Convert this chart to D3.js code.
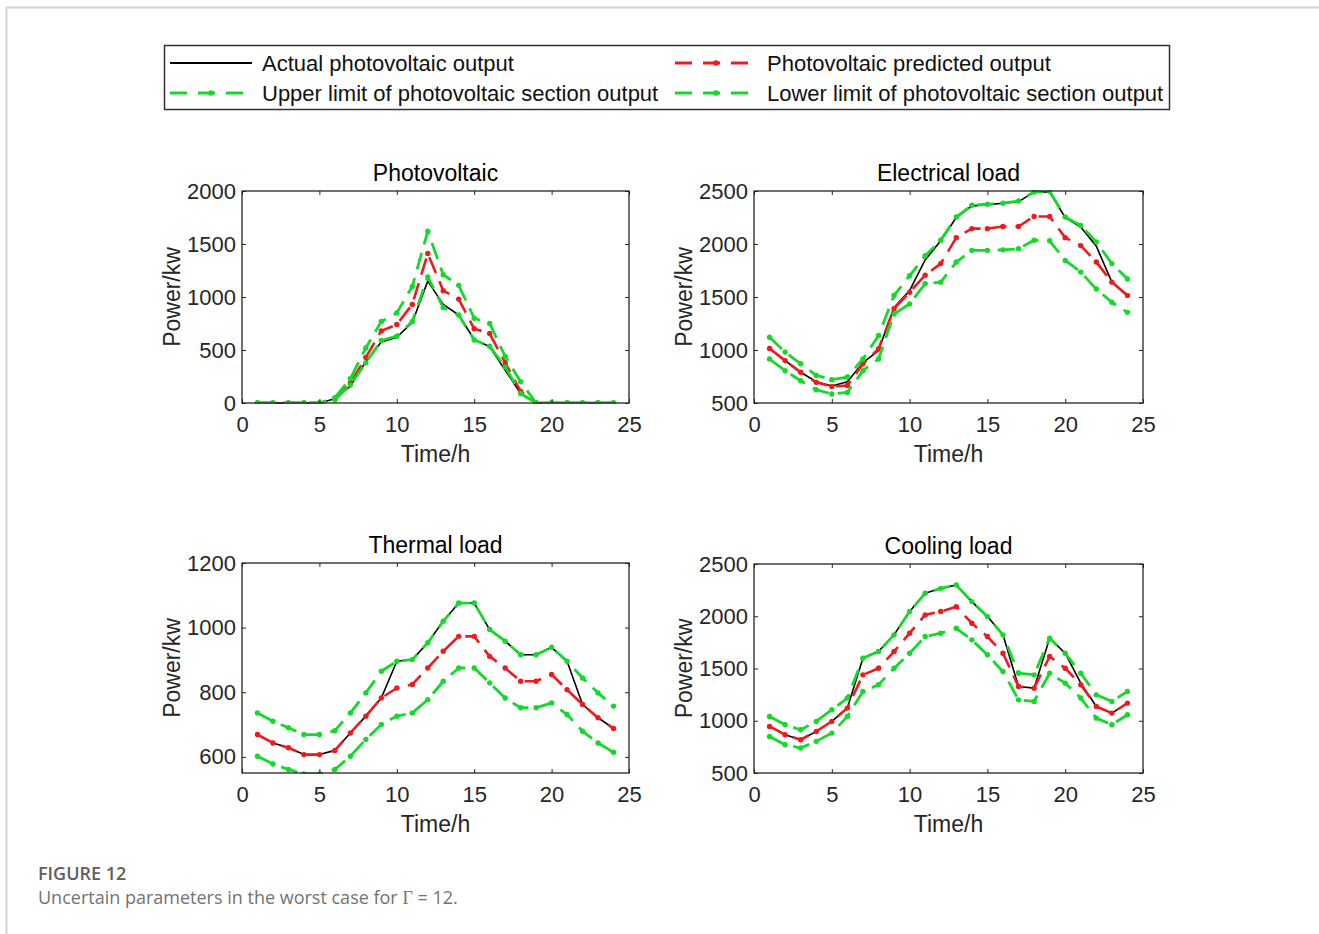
<!DOCTYPE html>
<html>
<head>
<meta charset="utf-8">
<script src="https://cdn.jsdelivr.net/npm/d3@7"></script>
<style>
  html, body { margin: 0; padding: 0; background: #fff; }
  svg { display: block; }
</style>
</head>
<body>
<svg id="fig" width="1319" height="934"></svg>
<script>
// Hours of the day
const hours = [1,2,3,4,5,6,7,8,9,10,11,12,13,14,15,16,17,18,19,20,21,22,23,24];

// Photovoltaic output (kW)
const pvActual    = [0,0,0,0,0,40,160,390,575,620,760,1150,930,830,600,530,310,90,0,0,0,0,0,0];
const pvPredicted = [0,0,0,0,0,40,190,430,680,740,930,1410,1060,980,700,655,380,110,0,0,0,0,0,0];
const pvUpper     = [0,0,0,0,0,50,230,520,770,850,1100,1620,1210,1110,800,750,440,200,0,0,0,0,0,0];
const pvLower     = [0,0,0,0,0,30,170,380,590,630,770,1190,900,830,595,535,340,90,0,0,0,0,0,0];

// Electrical load (kW)
const elActual    = [1010,900,790,700,660,700,880,995,1400,1560,1850,2030,2250,2360,2370,2385,2400,2490,2490,2250,2160,1980,1640,1510];
const elPredicted = [1015,900,790,695,655,665,870,1010,1390,1545,1705,1815,2060,2145,2145,2165,2165,2260,2260,2060,1985,1830,1640,1515];
const elUpper     = [1120,980,870,760,720,745,915,1135,1515,1700,1890,2035,2255,2365,2375,2385,2405,2490,2495,2255,2175,2020,1815,1670];
const elLower     = [915,805,710,625,585,600,805,915,1340,1435,1625,1640,1830,1940,1940,1945,1955,2035,2030,1845,1735,1575,1450,1355];

// Thermal load (kW)
const thActual    = [669,643,628,607,607,620,674,726,782,896,901,953,1020,1076,1076,994,958,916,916,939,896,762,721,688];
const thPredicted = [669,643,628,607,607,620,674,726,782,813,824,875,927,973,973,911,875,834,834,855,808,762,721,688];
const thUpper     = [736,710,690,669,669,681,736,798,865,896,901,953,1020,1076,1076,994,958,916,916,939,896,844,798,757];
const thLower     = [602,578,561,547,547,561,602,654,700,726,736,777,834,875,875,829,782,752,752,767,731,679,643,614];

// Cooling load (kW)
const coActual    = [946,866,818,898,994,1121,1599,1662,1822,2045,2220,2267,2299,2140,1997,1822,1328,1312,1790,1646,1360,1137,1073,1169];
const coPredicted = [946,866,818,898,994,1121,1439,1503,1662,1838,2013,2045,2092,1933,1806,1646,1328,1312,1615,1503,1344,1137,1073,1169];
const coUpper     = [1041,962,914,994,1105,1217,1599,1662,1822,2045,2220,2267,2299,2140,1997,1822,1455,1439,1790,1646,1455,1248,1185,1280];
const coLower     = [850,771,739,803,882,1041,1280,1344,1503,1646,1806,1838,1885,1774,1631,1471,1200,1185,1455,1360,1217,1025,962,1057];

// Axis ticks
const xTicks = [0,5,10,15,20,25];
const pvTicks = [0,500,1000,1500,2000];
const elTicks = [500,1000,1500,2000,2500];
const thTicks = [600,800,1000,1200];
const coTicks = [500,1000,1500,2000,2500];

// Panel titles and legend labels
const panelTitles = ["Photovoltaic", "Electrical load", "Thermal load", "Cooling load"];
const legendLabels = [
  "Actual photovoltaic output",
  "Photovoltaic predicted output",
  "Upper limit of photovoltaic section output",
  "Lower limit of photovoltaic section output"
];
const xLabel = "Time/h";
const yLabel = "Power/kw";

const GREEN = "#14d92a";
const RED = "#ee1b1e";
const AXIS = "#262626";
const FONT = "'Liberation Sans', Arial, sans-serif";
const fmt = d3.format("d");

const svg = d3.select("#fig");

// page frame
svg.append("line").attr("x1", 6).attr("x2", 1319).attr("y1", 7.5).attr("y2", 7.5)
  .attr("stroke", "#d4d4d4").attr("stroke-width", 2);
svg.append("line").attr("x1", 6.5).attr("x2", 6.5).attr("y1", 7).attr("y2", 934)
  .attr("stroke", "#d4d4d4").attr("stroke-width", 2);

const panels = [
  {title: panelTitles[0], box: [242, 629, 191, 403], yDomain: [0, 2000], yTicks: pvTicks,
   series: [pvActual, pvPredicted, pvUpper, pvLower]},
  {title: panelTitles[1], box: [754, 1143, 191, 403], yDomain: [500, 2500], yTicks: elTicks,
   series: [elActual, elPredicted, elUpper, elLower]},
  {title: panelTitles[2], box: [242, 629, 563, 773], yDomain: [550, 1200], yTicks: thTicks,
   series: [thActual, thPredicted, thUpper, thLower]},
  {title: panelTitles[3], box: [754, 1143, 564, 773], yDomain: [500, 2500], yTicks: coTicks,
   series: [coActual, coPredicted, coUpper, coLower]}
];

const styles = [
  {color: "#000", width: 1.6, dash: null, dots: false},
  {color: RED, width: 2.6, dash: "17,9", dots: true},
  {color: GREEN, width: 2.8, dash: "17,9", dots: true},
  {color: GREEN, width: 2.8, dash: "17,9", dots: true}
];

panels.forEach((p, i) => {
  const [x0, x1, y0, y1] = p.box;
  const x = d3.scaleLinear().domain([0, 25]).range([x0, x1]);
  const y = d3.scaleLinear().domain(p.yDomain).range([y1, y0]);
  const g = svg.append("g");

  const clipId = "clip" + i;
  svg.append("clipPath").attr("id", clipId).append("rect")
    .attr("x", x0).attr("y", y0 - 1).attr("width", x1 - x0).attr("height", y1 - y0 + 2);

  const plot = g.append("g").attr("clip-path", `url(#${clipId})`);
  const line = d3.line().x((d, k) => x(hours[k])).y(d => y(d));

  p.series.forEach((vals, s) => {
    const st = styles[s];
    plot.append("path").datum(vals)
      .attr("d", line)
      .attr("fill", "none")
      .attr("stroke", st.color)
      .attr("stroke-width", st.width)
      .attr("stroke-dasharray", st.dash)
      .attr("stroke-linejoin", "round");
    if (st.dots) {
      plot.selectAll(null).data(vals).join("circle")
        .attr("cx", (d, k) => x(hours[k]))
        .attr("cy", d => y(d))
        .attr("r", 2.7)
        .attr("fill", st.color);
    }
  });

  // axes: labels on left/bottom, inward ticks on all four sides
  const tickLen = 4;
  const bottom = g.append("g").attr("transform", `translate(0,${y1})`)
    .call(d3.axisBottom(x).tickValues(xTicks).tickFormat(fmt).tickSizeInner(-tickLen).tickSizeOuter(0).tickPadding(13));
  const top = g.append("g").attr("transform", `translate(0,${y0})`)
    .call(d3.axisTop(x).tickValues(xTicks).tickSizeInner(-tickLen).tickSizeOuter(0).tickFormat(""));
  const left = g.append("g").attr("transform", `translate(${x0},0)`)
    .call(d3.axisLeft(y).tickValues(p.yTicks).tickFormat(fmt).tickSizeInner(-tickLen).tickSizeOuter(0).tickPadding(6));
  const right = g.append("g").attr("transform", `translate(${x1},0)`)
    .call(d3.axisRight(y).tickValues(p.yTicks).tickSizeInner(-tickLen).tickSizeOuter(0).tickFormat(""));

  [bottom, top, left, right].forEach(a => {
    a.select(".domain").remove();
    a.selectAll("line").attr("stroke", AXIS).attr("stroke-width", 1);
    a.selectAll("text").attr("fill", AXIS).attr("font-family", FONT).attr("font-size", 22);
  });
  bottom.selectAll("text").attr("dy", "0.71em");

  // axes box
  g.append("rect").attr("x", x0).attr("y", y0).attr("width", x1 - x0).attr("height", y1 - y0)
    .attr("fill", "none").attr("stroke", AXIS).attr("stroke-width", 1.3);

  // title
  g.append("text").attr("x", (x0 + x1) / 2).attr("y", y0 - 10)
    .attr("text-anchor", "middle").attr("font-family", FONT).attr("font-size", 23)
    .attr("fill", "#000").text(p.title);

  // axis labels
  g.append("text").attr("x", (x0 + x1) / 2).attr("y", y1 + 59)
    .attr("text-anchor", "middle").attr("font-family", FONT).attr("font-size", 23)
    .attr("fill", AXIS).text(xLabel);
  g.append("text")
    .attr("transform", `translate(${x0 - 62},${(y0 + y1) / 2}) rotate(-90)`)
    .attr("text-anchor", "middle").attr("font-family", FONT).attr("font-size", 23)
    .attr("fill", AXIS).text(yLabel);
});

// legend
const leg = svg.append("g");
leg.append("rect").attr("x", 164.5).attr("y", 45.5).attr("width", 1005).attr("height", 64)
  .attr("fill", "#fff").attr("stroke", "#333").attr("stroke-width", 1.5);

const legendItems = [
  {label: legendLabels[0], style: styles[0], x: 170, y: 63},
  {label: legendLabels[1], style: styles[1], x: 675, y: 63},
  {label: legendLabels[2], style: styles[2], x: 170, y: 93},
  {label: legendLabels[3], style: styles[3], x: 675, y: 93}
];
legendItems.forEach(it => {
  const st = it.style;
  leg.append("line").attr("x1", it.x).attr("x2", it.x + 82).attr("y1", it.y).attr("y2", it.y)
    .attr("stroke", st.color).attr("stroke-width", st.dots ? 2.8 : 2.2)
    .attr("stroke-dasharray", st.dash ? "17,11" : null);
  if (st.dots) {
    leg.append("circle").attr("cx", it.x + 41).attr("cy", it.y).attr("r", 2.8).attr("fill", st.color);
  }
  leg.append("text").attr("x", it.x + 92).attr("y", it.y + 8)
    .attr("font-family", FONT).attr("font-size", 22).attr("fill", "#111").text(it.label);
});

// caption
svg.append("text").attr("x", 38).attr("y", 880)
  .attr("font-family", "'Open Sans', sans-serif").attr("font-size", 18).attr("font-weight", 600)
  .attr("fill", "#5f5f5f").text("FIGURE 12");
const cap = svg.append("text").attr("x", 38).attr("y", 904)
  .attr("font-family", "'Open Sans', sans-serif").attr("font-size", 18)
  .attr("fill", "#737373");
cap.append("tspan").text("Uncertain parameters in the worst case for ");
cap.append("tspan").attr("font-family", "'Liberation Serif', 'Times New Roman', serif").text("Γ");
cap.append("tspan").text(" = 12.");
</script>
</body>
</html>
